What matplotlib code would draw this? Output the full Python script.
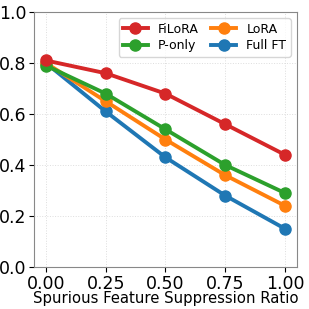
import numpy as np
import matplotlib
matplotlib.use("Agg")
import matplotlib.pyplot as plt

# suppression ratios on the x axis
ratios = [0.00, 0.25, 0.50, 0.75, 1.00]

# accuracy per method
filora = [0.81, 0.76, 0.68, 0.56, 0.44]
p_only = [0.79, 0.68, 0.54, 0.40, 0.29]
lora = [0.80, 0.65, 0.50, 0.36, 0.24]
full_ft = [0.80, 0.61, 0.43, 0.28, 0.15]

fig, ax = plt.subplots(figsize=(3.09, 3.09), dpi=100)

ax.plot(ratios, full_ft, "-o", color="#1f77b4", lw=2.8, ms=8, label="Full FT")
ax.plot(ratios, lora, "-o", color="#ff7f0e", lw=2.8, ms=8, label="LoRA")
ax.plot(ratios, p_only, "-o", color="#2ca02c", lw=2.8, ms=8, label="P-only")
ax.plot(ratios, filora, "-o", color="#d62728", lw=2.8, ms=8, label="FiLoRA")

ax.set_ylim(0, 1.0)
ax.set_xticks(ratios)
ax.set_yticks([0.0, 0.2, 0.4, 0.6, 0.8, 1.0])
ax.tick_params(labelsize=12.5, pad=2)
ax.set_xlabel("Spurious Feature Suppression Ratio", fontsize=10.7, labelpad=-1)
ax.grid(True, linestyle=":", color="#dddddd", lw=0.7)
for s in ax.spines.values():
    s.set_color("#888888")

# legend order: FiLoRA, P-only / LoRA, Full FT
h, l = ax.get_legend_handles_labels()
order = [3, 2, 1, 0]
ax.legend([h[i] for i in order], [l[i] for i in order], ncol=2, fontsize=9,
          loc="upper right", handlelength=2, columnspacing=1.0,
          labelspacing=0.3, borderpad=0.35)

fig.subplots_adjust(left=0.11, right=0.961, top=0.961, bottom=0.136)
fig.savefig("out.png", dpi=100)
